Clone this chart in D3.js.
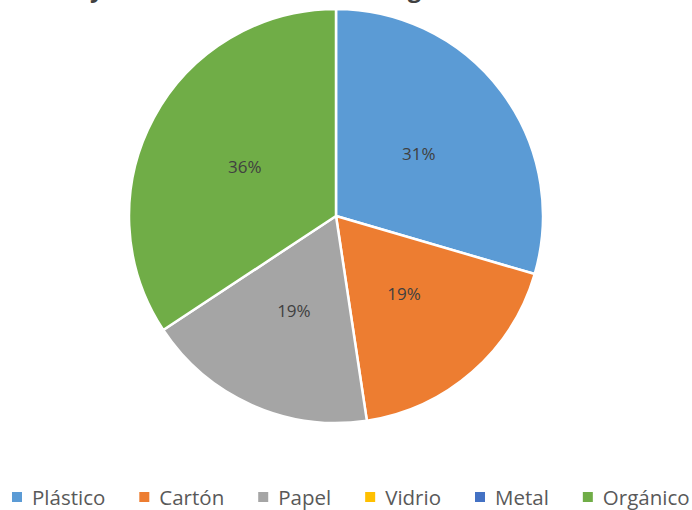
<!DOCTYPE html>
<html>
<head>
<meta charset="utf-8">
<script src="https://cdn.jsdelivr.net/npm/d3@7"></script>
<style>
  html, body { margin: 0; padding: 0; background: #ffffff; }
  svg { display: block; }
</style>
</head>
<body>
<svg id="chart" width="692" height="510"></svg>
<script>
const categories = ["Plástico", "Cartón", "Papel", "Vidrio", "Metal", "Orgánico"];
const values = [31, 19, 19, 0, 0, 36];
const colors = ["#5B9BD5", "#ED7D31", "#A5A5A5", "#FFC000", "#4472C4", "#70AD47"];
const titleText = "Residuos y desechos sólidos en el hogar";

const svg = d3.select("#chart");
const cx = 336, cy = 216, r = 207;

// Title (cropped at top of frame; only descenders visible)
const title = svg.append("text")
  .attr("x", 0).attr("y", -3)
  .attr("font-family", "'Open Sans', sans-serif")
  .attr("font-weight", "bold")
  .attr("font-size", 26)
  .attr("fill", "#404040")
  .text(titleText);
(function placeTitle(){
  const node = title.node();
  const iy = titleText.indexOf("y");
  const ig = titleText.lastIndexOf("g");
  const py = node.getStartPositionOfChar(iy).x;
  const pg = node.getStartPositionOfChar(ig).x;
  const fs = 26 * (318 / (pg - py));
  title.attr("font-size", fs);
  const py2 = node.getStartPositionOfChar(iy).x;
  title.attr("x", 90 - py2);
})();

const data = categories.map((c, i) => ({ name: c, value: values[i], color: colors[i] }));
const pie = d3.pie().sort(null).value(d => d.value).startAngle(0).endAngle(2 * Math.PI);
const arcs = pie(data).filter(d => d.data.value > 0);

const arc = d3.arc().innerRadius(0).outerRadius(r);
const labelArc = d3.arc().innerRadius(r * 0.5).outerRadius(r * 0.5);

const g = svg.append("g").attr("transform", `translate(${cx},${cy})`);
g.selectAll("path.slice")
  .data(arcs)
  .join("path")
  .attr("class", "slice")
  .attr("d", arc)
  .attr("fill", d => d.data.color)
  .attr("stroke", "#ffffff")
  .attr("stroke-width", 2.5)
  .attr("stroke-linejoin", "round");

g.selectAll("text.lbl")
  .data(arcs)
  .join("text")
  .attr("class", "lbl")
  .attr("transform", d => {
    const [x, y] = labelArc.centroid(d);
    return `translate(${x},${y})`;
  })
  .attr("text-anchor", "middle")
  .attr("dy", "0.35em")
  .attr("font-family", "'Open Sans', sans-serif")
  .attr("font-size", 17)
  .attr("fill", "#404040")
  .text(d => d3.format(".0f")(d.data.value) + "%");

// Legend
const legend = svg.append("g");
let x = 12;
const baseY = 505;
data.forEach(d => {
  legend.append("rect")
    .attr("x", x).attr("y", baseY - 13)
    .attr("width", 10).attr("height", 10)
    .attr("fill", d.color);
  const t = legend.append("text")
    .attr("x", x + 20).attr("y", baseY)
    .attr("font-family", "'Open Sans', sans-serif")
    .attr("font-size", 20.5)
    .attr("fill", "#595959")
    .text(d.name);
  x = x + 20 + t.node().getComputedTextLength() + 34;
});
</script>
</body>
</html>
